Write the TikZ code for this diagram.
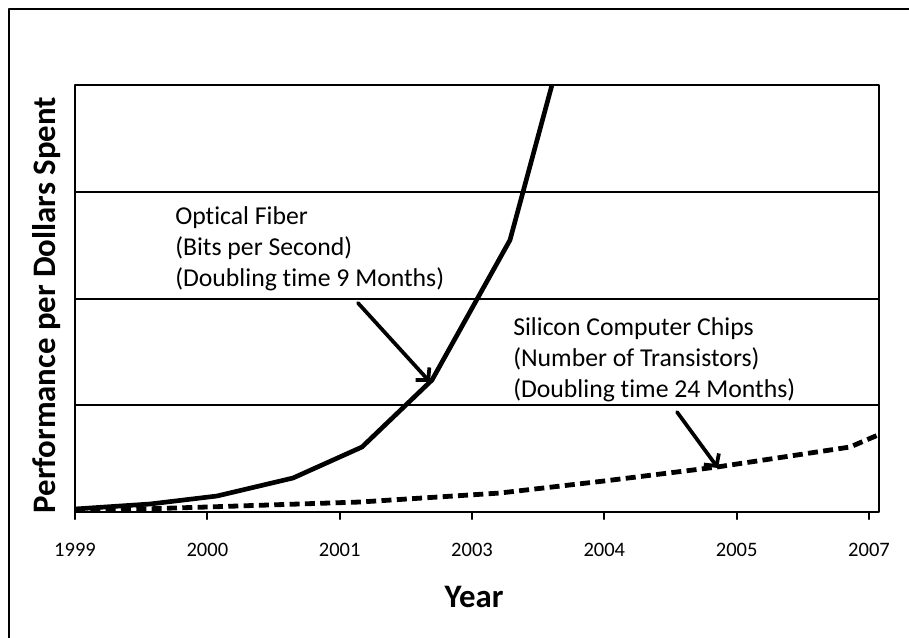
\documentclass[tikz,border=0pt]{standalone}
\usepackage{fontspec}
\setmainfont[Ligatures=NoCommon]{Carlito}
\usetikzlibrary{arrows.meta}
\tikzset{
  every picture/.append style={line cap=round,line join=round},
  chart frame/.style={line width=1.8pt},
  chart grid/.style={line width=1.5pt},
  chart tick/.style={line width=1.5pt},
  fiber curve/.style={line width=3.5pt},
  chip curve/.style={line width=3.6pt,line cap=butt,dash pattern=on 7.5pt off 4pt},
  chart arrow/.style={line width=2.8pt,-{Straight Barb[length=6.5pt,width=14pt]}},
  chart note/.style={font=\fontsize{19.3}{23.3}\selectfont,align=left,anchor=west,inner sep=0pt},
  year label/.style={font=\fontsize{15.4}{17}\selectfont,inner sep=0pt},
  axis title/.style={font=\fontsize{24.6}{28}\selectfont\bfseries,inner sep=0pt}
}
\begin{document}
\begin{tikzpicture}[x=0.75pt,y=-0.75pt]
\useasboundingbox (0,0) rectangle (909,637);
\clip (0,0) rectangle (909,637);
\draw[line width=1.5pt] (9,660) -- (9,9) -- (930,9);
\foreach \y in {191.75,298.5,405.25}
  \draw[chart grid] (75,\y) -- (879,\y);
\foreach \yr [count=\i from 0] in {1999,2000,2001,2003,2004,2005,2007} {
  \draw[chart tick] (75+\i*132.33,512) -- ++(0,7);
  \node[year label] (yr\yr) at (75+\i*132.33,550) {\yr};
}
\begin{scope}
\clip (75,85) rectangle (879,512);
\draw[fiber curve] (75,509) -- (150,504) -- (217,496) -- (293,478) -- (362,447)
  -- (432,380) -- (510,240) -- (556,70);
\draw[chip curve] (75,511) -- (207,507) -- (360,502) -- (500,493) -- (604,481)
  -- (717,467) -- (850,447) -- (885,432);
\end{scope}
\draw[chart frame] (75,85) rectangle (879,512);
\node[axis title] (xtitle) at (474,597) {Year};
\node[axis title,rotate=90] (ytitle) at (47,305) {Performance per Dollars Spent};
\node[chart note] (fibernote) at (175,248.5) {Optical Fiber\\(Bits per Second)\\(Doubling time 9 Months)};
\node[chart note] (chipnote) at (513,360) {Silicon Computer Chips\\(Number of Transistors)\\(Doubling time 24 Months)};
\coordinate (fibertail) at (358,303);
\coordinate (fibertip) at (430,382);
\coordinate (chiptail) at (677,412);
\coordinate (chiptip) at (718,468);
\draw[chart arrow] (fibertail) -- (fibertip);
\draw[chart arrow] (chiptail) -- (chiptip);
\end{tikzpicture}
\end{document}
